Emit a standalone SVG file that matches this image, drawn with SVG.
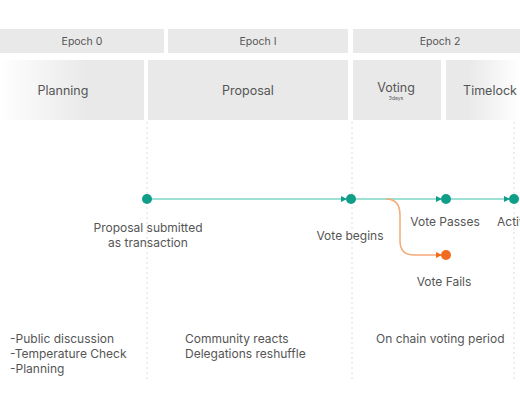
<svg xmlns="http://www.w3.org/2000/svg" width="520" height="400" viewBox="0 0 520 400">
<style>
text{font-family:Inter,"Liberation Sans",sans-serif;fill:#555}
.ep{font-size:10.5px;text-anchor:middle}
.ph{font-size:12.5px;text-anchor:middle}
.lb{font-size:12px}
.c{text-anchor:middle}
.box{fill:#e9e9e9}
.dash{stroke:#dcdcdc;stroke-width:1;stroke-dasharray:2 3;fill:none}
.tl{stroke:#7fd6c6;stroke-width:1.5;fill:none}
.or{stroke:#f6a97a;stroke-width:1.5;fill:none}
.nd{fill:#0f9e88}
</style>
<defs>
<linearGradient id="gl" x1="0" x2="1" y1="0" y2="0"><stop offset="0" stop-color="#ffffff"/><stop offset="0.6" stop-color="#e9e9e9"/></linearGradient>
<linearGradient id="gr" x1="0" x2="1" y1="0" y2="0"><stop offset="0.3" stop-color="#e9e9e9"/><stop offset="1" stop-color="#ffffff"/></linearGradient>
<marker id="at" viewBox="0 0 6 6" refX="5" refY="3" markerWidth="6" markerHeight="6" orient="auto" markerUnits="userSpaceOnUse"><path d="M0,0L6,3L0,6z" fill="#0f9e88"/></marker>
<marker id="ao" viewBox="0 0 6 6" refX="5" refY="3" markerWidth="6" markerHeight="6" orient="auto" markerUnits="userSpaceOnUse"><path d="M0,0L6,3L0,6z" fill="#f26a1f"/></marker>
</defs>
<rect width="520" height="400" fill="#fff"/>
<g id="epochs">
<rect class="box" x="0" y="29" width="164" height="24"/>
<text class="ep" x="82" y="45">Epoch 0</text>
<rect class="box" x="168" y="29" width="180" height="24"/>
<text class="ep" x="258" y="45">Epoch I</text>
<rect class="box" x="353" y="29" width="167" height="24"/>
<text class="ep" x="440" y="45">Epoch 2</text>
</g>
<g id="phase-planning"><rect x="0" y="60" width="144" height="60" fill="url(#gl)"/><text class="ph" x="63" y="95">Planning</text></g>
<g id="phase-proposal"><rect class="box" x="148" y="60" width="200" height="60"/><text class="ph" x="248" y="95">Proposal</text></g>
<g id="phase-voting"><rect class="box" x="353" y="60" width="88" height="60"/><text class="ph" x="396" y="92">Voting</text><text x="396" y="100" style="font-size:5px;text-anchor:middle">3days</text></g>
<g id="phase-timelock"><rect x="446" y="60" width="74" height="60" fill="url(#gr)"/><text class="ph" x="490" y="95">Timelock</text></g>
<g id="guides">
<line class="dash" x1="147" y1="122" x2="147" y2="380"/>
<line class="dash" x1="352" y1="122" x2="352" y2="380"/>
<line class="dash" x1="514" y1="122" x2="514" y2="380"/>
</g>
<g id="connectors">
<line class="tl" x1="147" y1="199" x2="346" y2="199" marker-end="url(#at)"/>
<line class="tl" x1="351" y1="199" x2="441" y2="199" marker-end="url(#at)"/>
<line class="tl" x1="446" y1="199" x2="509" y2="199" marker-end="url(#at)"/>
<path class="or" d="M386,199 Q400,199 400,215 L400,241 Q400,255 414,255 L441,255" marker-end="url(#ao)"/>
</g>
<g id="node-submitted"><circle class="nd" cx="147" cy="199" r="5"/><text class="lb c" x="148" y="232">Proposal submitted</text><text class="lb c" x="148" y="247">as transaction</text></g>
<g id="node-vote-begins"><circle class="nd" cx="351" cy="199" r="5"/><text class="lb c" x="350" y="240">Vote begins</text></g>
<g id="node-vote-passes"><circle class="nd" cx="446" cy="199" r="5"/><text class="lb c" x="445" y="226">Vote Passes</text></g>
<g id="node-active"><circle class="nd" cx="514" cy="199" r="5"/><text class="lb" x="497" y="226">Active</text></g>
<g id="node-vote-fails"><circle cx="446" cy="255" r="5" fill="#f26a1f"/><text class="lb c" x="444" y="286">Vote Fails</text></g>
<g id="notes">
<text class="lb" x="10" y="343">-Public discussion</text>
<text class="lb" x="10" y="358">-Temperature Check</text>
<text class="lb" x="10" y="373">-Planning</text>
<text class="lb" x="185" y="343">Community reacts</text>
<text class="lb" x="185" y="358">Delegations reshuffle</text>
<text class="lb" x="376" y="343">On chain voting period</text>
</g>
</svg>
